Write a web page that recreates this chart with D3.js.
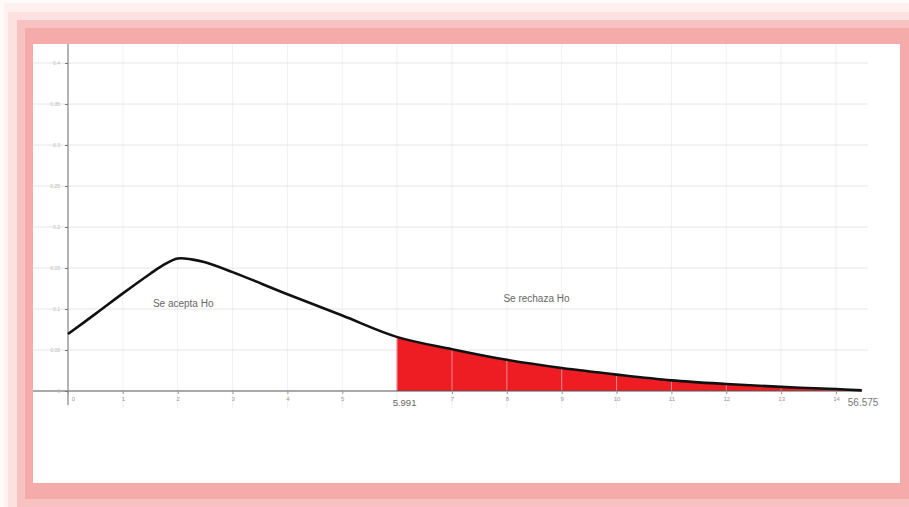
<!DOCTYPE html>
<html><head><meta charset="utf-8">
<script src="https://cdn.jsdelivr.net/npm/d3@7/dist/d3.min.js"></script>
<style>body{margin:0;background:#fff}svg{display:block}</style>
</head><body>
<svg id="c" width="909" height="507"></svg>
<script>
// ---- data ----
const xValues = [0, 0.5, 1, 1.5, 1.75, 2, 2.25, 2.5, 3, 4, 5, 5.991, 7, 8, 9, 10, 11, 12, 13, 14, 14.47];
const yValues = [0.0695, 0.094, 0.119, 0.143, 0.154, 0.1615, 0.1605, 0.157, 0.145, 0.118, 0.092, 0.066, 0.051, 0.038, 0.028, 0.020, 0.013, 0.0085, 0.005, 0.0024, 0.0008];
const xTickValues = [0,1,2,3,4,5,7,8,9,10,11,12,13,14];
const xGridValues = [0,1,2,3,4,5,6,7,8,9,10,11,12,13,14];
const yTickValues = [0,0.05,0.1,0.15,0.2,0.25,0.3,0.35,0.4];
const criticalValue = 5.991;
const criticalLabel = "5.991";
const endLabel = "56.575";
const acceptLabel = "Se acepta Ho";
const rejectLabel = "Se rechaza Ho";

const svg = d3.select("#c");
const W = 909, H = 507;

// ---- frame ----
svg.append("rect").attr("width",W).attr("height",H).attr("fill","#fefaf9");
svg.append("rect").attr("x",4).attr("y",3).attr("width",W-4).attr("height",H-3).attr("fill","#fdf0ef");
svg.append("rect").attr("x",8).attr("y",12).attr("width",W-8).attr("height",H-12).attr("fill","#fce1e0");
svg.append("rect").attr("x",17).attr("y",20).attr("width",W-17).attr("height",H-20).attr("fill","#f8c2c2");
svg.append("rect").attr("x",25).attr("y",28).attr("width",W-25).attr("height",471).attr("fill","#f6abab");
const plotL = 33, plotT = 44, plotR = 900, plotB = 483;
svg.append("rect").attr("x",plotL).attr("y",plotT).attr("width",plotR-plotL).attr("height",plotB-plotT).attr("fill","#ffffff");

// ---- scales ----
const x = d3.scaleLinear().domain([0,14]).range([68,836]);
const y = d3.scaleLinear().domain([0,0.05]).range([391,350]);
const xEnd = x(xValues[xValues.length-1]);

const data = xValues.map((v,i)=>({x:v,y:yValues[i]}));
const curveType = d3.curveCatmullRom.alpha(0.5);

// ---- grid ----
svg.append("g").selectAll("line").data(yTickValues.slice(1)).join("line")
  .attr("x1",plotL).attr("x2",xEnd+6)
  .attr("y1",d=>y(d)).attr("y2",d=>y(d))
  .attr("stroke","#e6e6e6").attr("stroke-width",1);

// ---- rejection area ----
const area = d3.area().x(d=>x(d.x)).y0(y(0)).y1(d=>y(d.y)).curve(curveType);
const tail = data.filter(d=>d.x>=criticalValue);
svg.append("path").datum(tail).attr("d",area).attr("fill","#ee1d23");

// vertical grid (light, drawn over the fill)
svg.append("g").selectAll("line").data(xGridValues).join("line")
  .attr("x1",d=>x(d)).attr("x2",d=>x(d))
  .attr("y1",plotT).attr("y2",408)
  .attr("stroke","#e4e4e4").attr("stroke-opacity",0.55).attr("stroke-width",1);

// ---- axes ----
svg.append("line").attr("x1",plotL).attr("x2",xEnd).attr("y1",y(0)).attr("y2",y(0))
  .attr("stroke","#555").attr("stroke-width",1.2);
svg.append("line").attr("x1",x(0)).attr("x2",x(0)).attr("y1",plotT).attr("y2",405)
  .attr("stroke","#888").attr("stroke-width",1.2);

const font = "Liberation Sans, Arial, sans-serif";
const xAxis = d3.axisBottom(x).tickValues(xTickValues).tickSize(3).tickFormat(d3.format("d"));
const gx = svg.append("g").attr("transform",`translate(0,${y(0)})`).call(xAxis);
gx.select(".domain").remove();
gx.selectAll(".tick line").attr("stroke","#999");
gx.selectAll(".tick text").attr("font-family",font)
  .attr("font-size",6).attr("fill","#999").attr("dy","0.6em")
  .attr("dx",d=>d===0?5:0);

const yAxis = d3.axisLeft(y).tickValues(yTickValues).tickSize(3).tickFormat(d=>d===0?"0":d3.format(".2")(d));
const gy = svg.append("g").attr("transform",`translate(${x(0)},0)`).call(yAxis);
gy.select(".domain").remove();
gy.selectAll(".tick line").attr("stroke","#777");
gy.selectAll(".tick text").attr("font-family",font)
  .attr("font-size",5).attr("fill","#bbb").attr("dx",-2);

// ---- curve ----
const line = d3.line().x(d=>x(d.x)).y(d=>y(d.y)).curve(curveType);
svg.append("path").datum(data).attr("d",line).attr("fill","none")
  .attr("stroke","#111").attr("stroke-width",2.6).attr("stroke-linejoin","round");

// ---- labels ----
svg.append("text").attr("x",x(criticalValue)-4).attr("y",406).text(criticalLabel)
  .attr("font-family",font).attr("font-size",9.5).attr("fill","#666");
svg.append("text").attr("x",xEnd-14).attr("y",406).text(endLabel)
  .attr("font-family",font).attr("font-size",10).attr("fill","#777");
svg.append("text").attr("x",x(2.1)).attr("y",y(0.0695)-27).attr("text-anchor","middle").text(acceptLabel)
  .attr("font-family",font).attr("font-size",10).attr("fill","#666");
svg.append("text").attr("x",x(8.54)).attr("y",y(0.0695)-32).attr("text-anchor","middle").text(rejectLabel)
  .attr("font-family",font).attr("font-size",10).attr("fill","#666");
</script>
</body></html>
